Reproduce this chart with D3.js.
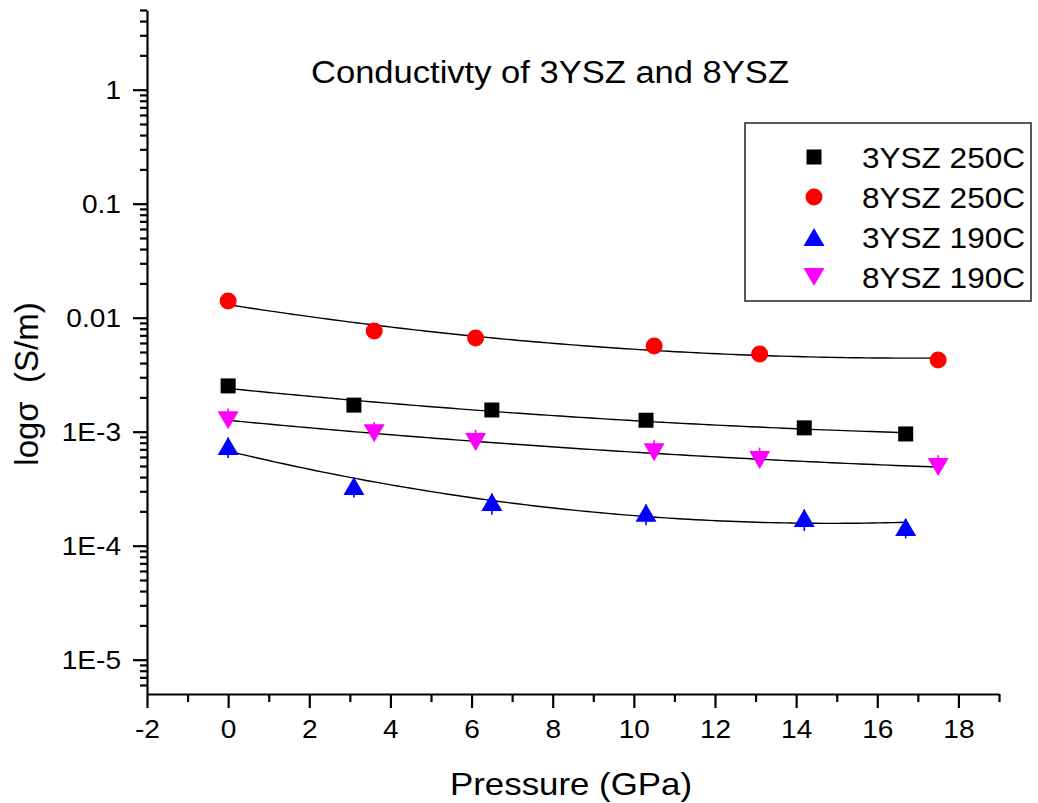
<!DOCTYPE html>
<html>
<head>
<meta charset="utf-8">
<script src="https://cdn.jsdelivr.net/npm/d3@7/dist/d3.min.js"></script>
<style>
  body { margin: 0; background: #fff; }
  svg { display: block; font-family: "Liberation Sans", Arial, sans-serif; }
</style>
</head>
<body>
<svg id="chart" width="1038" height="803"></svg>
<script>
/* global d3 */

// pressure (GPa) for each series
const pressure3YSZ = [0, 3.1, 6.5, 10.3, 14.2, 16.7];
const pressure8YSZ = [0, 3.6, 6.1, 10.5, 13.1, 17.5];

// conductivity values (S/m)
const sigma3YSZ250 = [2.52e-3, 1.71e-3, 1.55e-3, 1.26e-3, 1.08e-3, 9.55e-4];
const sigma8YSZ250 = [1.40e-2, 7.64e-3, 6.64e-3, 5.65e-3, 4.80e-3, 4.25e-3];
const sigma3YSZ190 = [7.48e-4, 3.34e-4, 2.42e-4, 1.94e-4, 1.75e-4, 1.46e-4];
const sigma8YSZ190 = [1.26e-3, 9.70e-4, 8.10e-4, 6.60e-4, 5.65e-4, 4.90e-4];

// error bars for the 190C runs (up / down)
const errUp3YSZ190 = [1.4e-4, 0.6e-4, 0.45e-4, 0.36e-4, 0.33e-4, 0.25e-4];
const errDown3YSZ190 = [1.6e-4, 0.7e-4, 0.55e-4, 0.43e-4, 0.40e-4, 0.30e-4];
const errUp8YSZ190 = [3.4e-4, 2.4e-4, 2.3e-4, 1.8e-4, 1.6e-4, 1.3e-4];
const errDown8YSZ190 = [1.8e-4, 1.4e-4, 1.2e-4, 0.95e-4, 0.8e-4, 0.7e-4];

const seriesNames = ['3YSZ 250C', '8YSZ 250C', '3YSZ 190C', '8YSZ 190C'];
const seriesColors = ['#000000', '#ff0000', '#0000ff', '#ff00ff'];
const seriesShapes = ['square', 'circle', 'triangle', 'triangleDown'];

const xMajorTicks = [-2, 0, 2, 4, 6, 8, 10, 12, 14, 16, 18];
const xMinorTicks = [-1, 1, 3, 5, 7, 9, 11, 13, 15, 17, 19];
const yMajorTicks = [1e-5, 1e-4, 1e-3, 1e-2, 1e-1, 1];
const yTickLabels = ['1E-5', '1E-4', '1E-3', '0.01', '0.1', '1'];
const yMinorMults = [2, 3, 4, 5, 6, 7, 8, 9];

const titleText = 'Conductivty of 3YSZ and 8YSZ';
const xLabel = 'Pressure (GPa)';
const yLabel = 'logσ  (S/m)';

const series = [
  { x: pressure3YSZ, y: sigma3YSZ250, up: null, down: null },
  { x: pressure8YSZ, y: sigma8YSZ250, up: null, down: null },
  { x: pressure3YSZ, y: sigma3YSZ190, up: errUp3YSZ190, down: errDown3YSZ190 },
  { x: pressure8YSZ, y: sigma8YSZ190, up: errUp8YSZ190, down: errDown8YSZ190 },
].map((s, i) => ({
  ...s,
  name: seriesNames[i],
  color: seriesColors[i],
  shape: seriesShapes[i],
  points: s.x.map((px, j) => ({
    p: px,
    v: s.y[j],
    up: s.up ? s.up[j] : 0,
    down: s.down ? s.down[j] : 0,
  })),
}));

const margin = { top: 10, right: 39, bottom: 109, left: 147 };
const width = 1038;
const height = 803;

const svg = d3.select('#chart');

const x = d3.scaleLinear().domain([-2, 19]).range([margin.left, width - margin.right]);
const y = d3.scaleLog().domain([5e-6, 5]).range([height - margin.bottom, margin.top]);

// marker path generator, centred on the marker's box
const markerPath = (shape) => {
  switch (shape) {
    case 'square':
      return 'M-7.5,-7.5H7.5V7.5H-7.5Z';
    case 'circle':
      return 'M8.5,0A8.5,8.5 0 1,1 -8.5,0A8.5,8.5 0 1,1 8.5,0Z';
    case 'triangle':
      return 'M0,-9L10.5,9L-10.5,9Z';
    default:
      return 'M0,9L10.5,-9L-10.5,-9Z';
  }
};

// least squares quadratic in log space, like the fit in the original plot
const quadFit = (xs, ys) => {
  const ly = ys.map(v => Math.log10(v));
  const s = [0, 0, 0, 0, 0];
  const t = [0, 0, 0];
  xs.forEach((xv, i) => {
    for (let k = 0; k < 5; k++) s[k] += xv ** k;
    for (let k = 0; k < 3; k++) t[k] += ly[i] * xv ** k;
  });
  const m = [
    [s[0], s[1], s[2], t[0]],
    [s[1], s[2], s[3], t[1]],
    [s[2], s[3], s[4], t[2]],
  ];
  for (let c = 0; c < 3; c++) {
    for (let r = c + 1; r < 3; r++) {
      const f = m[r][c] / m[c][c];
      for (let k = c; k < 4; k++) m[r][k] -= f * m[c][k];
    }
  }
  const coef = [0, 0, 0];
  for (let r = 2; r >= 0; r--) {
    let acc = m[r][3];
    for (let k = r + 1; k < 3; k++) acc -= m[r][k] * coef[k];
    coef[r] = acc / m[r][r];
  }
  return xv => 10 ** (coef[0] + coef[1] * xv + coef[2] * xv * xv);
};

// axes
const axisG = svg.append('g');

const yMinor = [];
d3.range(-6, 1).forEach((p) => {
  yMinorMults.forEach((mult) => {
    const v = mult * 10 ** p;
    if (v >= 5e-6 && v <= 5) yMinor.push(v);
  });
});

axisG.append('g')
  .attr('transform', `translate(${margin.left},0)`)
  .call(d3.axisLeft(y).tickValues(yMinor).tickSize(7).tickSizeOuter(0).tickFormat(''))
  .call(g => g.select('.domain').remove());

axisG.append('g')
  .attr('transform', `translate(${margin.left},0)`)
  .call(d3.axisLeft(y).tickValues(yMajorTicks).tickSize(14).tickSizeOuter(0)
    .tickPadding(12).tickFormat((d, i) => yTickLabels[i]));

axisG.append('g')
  .attr('transform', `translate(0,${height - margin.bottom})`)
  .call(d3.axisBottom(x).tickValues(xMinorTicks).tickSize(8).tickSizeOuter(0).tickFormat(''))
  .call(g => g.select('.domain').remove());

axisG.append('g')
  .attr('transform', `translate(0,${height - margin.bottom})`)
  .call(d3.axisBottom(x).tickValues(xMajorTicks).tickSize(14).tickSizeOuter(0)
    .tickPadding(12).tickFormat(d => String(d)));

axisG.selectAll('path, line').attr('stroke', '#000').attr('stroke-width', 2.2);
axisG.selectAll('text')
  .attr('fill', '#000')
  .style('font-size', '26px')
  .style('font-family', '"Liberation Sans", Arial, sans-serif')
  .each(function () {
    // the original glyphs are a little wider than Arial's
    const w = this.getComputedTextLength();
    d3.select(this)
      .attr('textLength', w * 1.08)
      .attr('lengthAdjust', 'spacingAndGlyphs');
  });

// fit curves
const line = d3.line().x(d => x(d[0])).y(d => y(d[1])).curve(d3.curveLinear);
const fitG = svg.append('g');
series.forEach((s) => {
  const f = quadFit(s.x, s.y);
  const x0 = d3.min(s.x);
  const x1 = d3.max(s.x);
  const samples = d3.range(0, 101).map(k => x0 + (x1 - x0) * k / 100);
  fitG.append('path')
    .attr('d', line(samples.map(xv => [xv, f(xv)])))
    .attr('fill', 'none')
    .attr('stroke', '#000')
    .attr('stroke-width', 1.4);
});

// error bars and markers
series.forEach((s) => {
  const g = svg.append('g');
  if (s.up) {
    g.selectAll('line.err')
      .data(s.points)
      .enter()
      .append('line')
      .classed('err', true)
      .attr('x1', d => x(d.p))
      .attr('x2', d => x(d.p))
      .attr('y1', d => y(d.v - d.down))
      .attr('y2', d => y(d.v + d.up))
      .attr('stroke', s.color)
      .attr('stroke-width', 1.6);
  }
  g.selectAll('path.mark')
    .data(s.points)
    .enter()
    .append('path')
    .classed('mark', true)
    .attr('d', markerPath(s.shape))
    .attr('transform', d => `translate(${x(d.p)},${y(d.v)})`)
    .attr('fill', s.color);
});

// title
svg.append('text')
  .attr('x', 311)
  .attr('y', 83)
  .attr('textLength', 478)
  .attr('lengthAdjust', 'spacingAndGlyphs')
  .style('font-size', '31px')
  .text(titleText);

// axis titles
svg.append('text')
  .attr('x', 450)
  .attr('y', 795)
  .attr('textLength', 242)
  .attr('lengthAdjust', 'spacingAndGlyphs')
  .style('font-size', '32px')
  .text(xLabel);

svg.append('text')
  .attr('transform', 'translate(38,384) rotate(-90)')
  .attr('text-anchor', 'middle')
  .style('font-size', '33px')
  .style('white-space', 'pre')
  .text(yLabel);

// legend
const legend = svg.append('g');
legend.append('rect')
  .attr('x', 745)
  .attr('y', 123)
  .attr('width', 286)
  .attr('height', 178)
  .attr('fill', '#fff')
  .attr('stroke', '#222')
  .attr('stroke-width', 1.5);

const legendRows = d3.scalePoint().domain(seriesNames).range([157, 277]);
series.forEach((s) => {
  legend.append('path')
    .attr('d', markerPath(s.shape))
    .attr('transform', `translate(814,${legendRows(s.name)})`)
    .attr('fill', s.color);
  legend.append('text')
    .attr('x', 862)
    .attr('y', legendRows(s.name) + 11)
    .attr('textLength', 163)
    .attr('lengthAdjust', 'spacingAndGlyphs')
    .style('font-size', '30px')
    .text(s.name);
});
</script>
</body>
</html>
